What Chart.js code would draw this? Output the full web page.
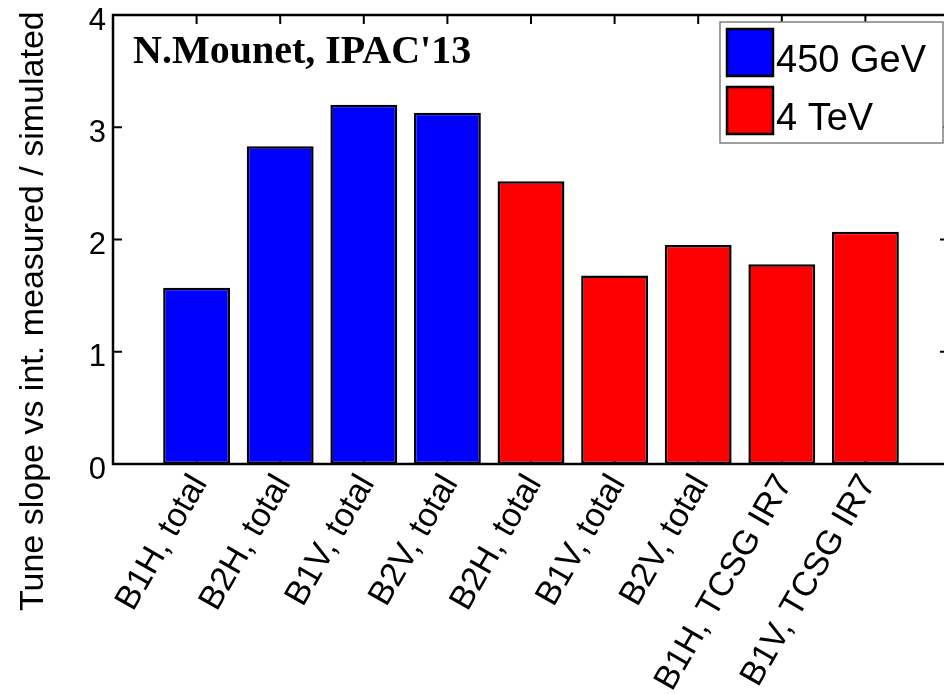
<!DOCTYPE html>
<html>
<head>
<meta charset="utf-8">
<script src="https://cdn.jsdelivr.net/npm/chart.js@4.4.1/dist/chart.umd.min.js"></script>
<style>
  html, body { margin: 0; padding: 0; background: #fff; overflow: hidden; }
  #wrap { width: 944px; height: 694px; overflow: hidden; }
</style>
</head>
<body>
<div id="wrap"><canvas id="tuneSlope" width="960" height="694"></canvas></div>
<script>
  // Categories, left to right
  const categories = [
    'B1H, total', 'B2H, total', 'B1V, total', 'B2V, total',
    'B2H, total', 'B1V, total', 'B2V, total', 'B1H, TCSG IR7', 'B1V, TCSG IR7'
  ];
  // Ratio measured / simulated
  const ratio450GeV = [1.57, 2.83, 3.20, 3.13, null, null, null, null, null];
  const ratio4TeV = [null, null, null, null, 2.52, 1.68, 1.95, 1.78, 2.07];
  const seriesNames = ['450 GeV', '4 TeV'];
  const seriesColors = ['#0000ff', '#ff0000'];
  const yMin = 0, yMax = 4, yStep = 1;
  const yTitle = 'Tune slope vs int. measured / simulated';
  const note = "N.Mounet, IPAC'13";

  // Matlab-like x range [0, 10]: pad an empty slot on each side
  const pad = (arr) => [null, ...arr, null];
  const labels = ['', ...categories, ''];

  const sansFont = '"Liberation Sans", Arial, sans-serif';

  // Box around the axes with inward tick marks (ticks under the bars, box over them)
  const framePlugin = {
    id: 'frame',
    beforeDatasetsDraw(chart) {
      const { ctx, chartArea: a, scales: { x, y } } = chart;
      ctx.save();
      ctx.strokeStyle = '#000';
      ctx.lineWidth = 2;
      ctx.beginPath();
      y.ticks.forEach((t, i) => {
        const py = y.getPixelForTick(i);
        ctx.moveTo(a.left, py); ctx.lineTo(a.left + 9, py);
        ctx.moveTo(a.right, py); ctx.lineTo(a.right - 9, py);
      });
      x.ticks.forEach((t, i) => {
        const px = x.getPixelForTick(i);
        ctx.moveTo(px, a.top); ctx.lineTo(px, a.top + 9);
        ctx.moveTo(px, a.bottom); ctx.lineTo(px, a.bottom - 9);
      });
      ctx.stroke();
      ctx.restore();
    },
    afterDatasetsDraw(chart) {
      const { ctx, chartArea: a } = chart;
      ctx.save();
      ctx.strokeStyle = '#000';
      ctx.lineWidth = 2.5;
      ctx.strokeRect(a.left, a.top, a.right - a.left, a.bottom - a.top);
      ctx.restore();
    }
  };

  // Y title (runs past the axes, so drawn by hand), annotation and boxed legend
  const decorPlugin = {
    id: 'decor',
    afterDraw(chart) {
      const ctx = chart.ctx;
      ctx.save();
      ctx.fillStyle = '#000';

      ctx.save();
      ctx.translate(43, 611);
      ctx.rotate(-Math.PI / 2);
      ctx.font = '34px ' + sansFont;
      ctx.textAlign = 'left';
      ctx.textBaseline = 'alphabetic';
      ctx.fillText(yTitle, 0, 0);
      ctx.restore();

      ctx.font = 'bold 40px "Liberation Serif", "Times New Roman", serif';
      ctx.textAlign = 'left';
      ctx.fillText(note, 133, 63);

      // legend
      ctx.fillStyle = '#fff';
      ctx.fillRect(720, 22, 223, 121);
      ctx.strokeStyle = '#808080';
      ctx.lineWidth = 1.5;
      ctx.strokeRect(720, 22, 223, 121);
      ctx.font = '38px ' + sansFont;
      chart.data.datasets.forEach((ds, i) => {
        const top = 29 + i * 58;
        ctx.fillStyle = ds.backgroundColor;
        ctx.fillRect(727, top, 46, 47);
        ctx.strokeStyle = '#000';
        ctx.lineWidth = 2.5;
        ctx.strokeRect(727, top, 46, 47);
        ctx.fillStyle = '#000';
        ctx.fillText(ds.label, 776, top + 43);
      });
      ctx.restore();
    }
  };

  const makeSet = (i, data) => ({
    label: seriesNames[i],
    data: pad(data),
    backgroundColor: seriesColors[i],
    borderColor: '#000',
    borderWidth: 2.5,
    borderSkipped: false,
    grouped: false,
    barPercentage: 0.8,
    categoryPercentage: 1
  });

  new Chart(document.getElementById('tuneSlope').getContext('2d'), {
    type: 'bar',
    data: {
      labels: labels,
      datasets: [makeSet(0, ratio450GeV), makeSet(1, ratio4TeV)]
    },
    options: {
      responsive: false,
      animation: false,
      layout: { padding: { left: 0, top: 15, right: 11, bottom: 0 } },
      plugins: { legend: { display: false }, tooltip: { enabled: false } },
      scales: {
        x: {
          offset: false,
          grid: { display: false, drawTicks: false, offset: false },
          border: { display: false },
          ticks: {
            autoSkip: false,
            maxRotation: 60,
            minRotation: 60,
            padding: 4,
            labelOffset: 3,
            color: '#000',
            font: { family: sansFont, size: 34 }
          },
          afterFit(scale) {
            scale.height = 230;
            scale.paddingLeft = 0;
            scale.paddingRight = 0;
          }
        },
        y: {
          min: yMin,
          max: yMax,
          grid: { display: false, drawTicks: false },
          border: { display: false },
          ticks: {
            stepSize: yStep,
            padding: 7,
            labelOffset: 6,
            color: '#000',
            font: { family: sansFont, size: 31 }
          },
          afterFit(scale) {
            scale.width = 113;
            scale.paddingTop = 0;
            scale.paddingBottom = 0;
          }
        }
      }
    },
    plugins: [framePlugin, decorPlugin]
  });
</script>
</body>
</html>
